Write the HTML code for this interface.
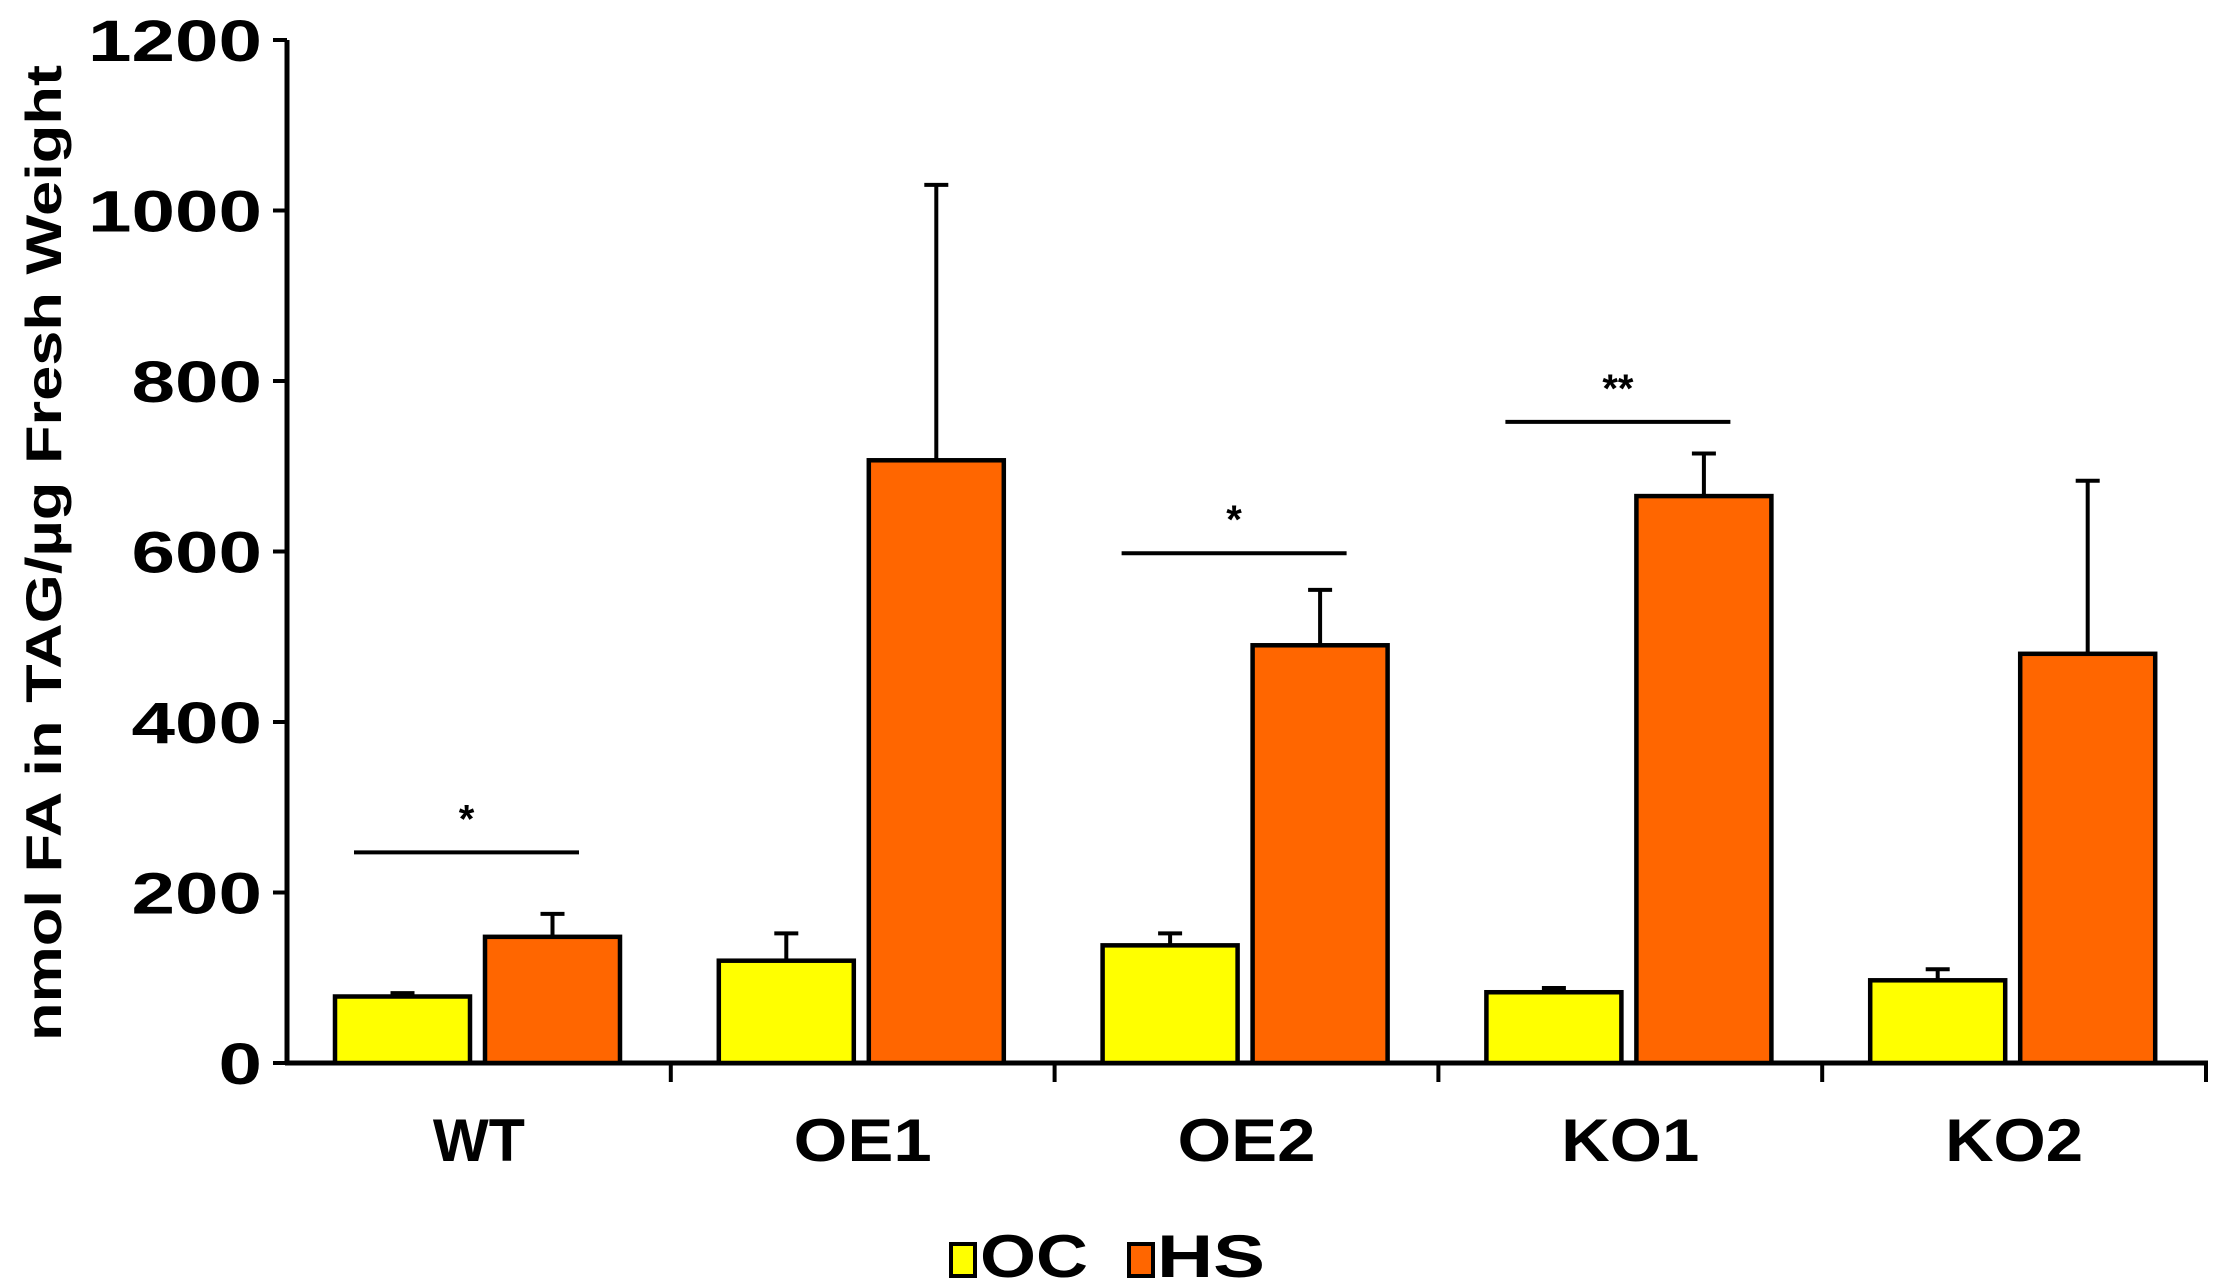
<!DOCTYPE html>
<html><head><meta charset="utf-8"><style>
html,body{margin:0;padding:0;background:#fff;}
svg{display:block;font-family:"Liberation Sans",Arial,sans-serif;font-weight:bold;}
</style></head><body>
<svg id="chart" width="2217" height="1287" viewBox="0 0 2217 1287" xmlns="http://www.w3.org/2000/svg">
<text transform="translate(61,553) rotate(-90)" text-anchor="middle" font-size="50" textLength="976" lengthAdjust="spacingAndGlyphs">nmol FA in TAG/µg Fresh Weight</text>
<g id="axes"></g><g id="bars"></g><g id="sig"></g>
<g>
<rect x="951" y="1244" width="24" height="32" fill="#ffff00" stroke="#000" stroke-width="4"/>
<text x="980" y="1277" font-size="60" textLength="108" lengthAdjust="spacingAndGlyphs">OC</text>
<rect x="1129" y="1244" width="24" height="32" fill="#ff6600" stroke="#000" stroke-width="4"/>
<text x="1157" y="1277" font-size="60" textLength="108" lengthAdjust="spacingAndGlyphs">HS</text>
</g>
</svg>
<script>
const categories = ["WT","OE1","OE2","KO1","KO2"];
const ocValues = [78,120,138,83,97];
const ocErrTop = [82,152,152,88,110];
const hsValues = [148,707,490,665,480];
const hsErrTop = [175,1030,555,715,683];
const yTicks = [0,200,400,600,800,1000,1200];
const sigCats = [0,2,3];
const sigLevels = [247,598,752];
const sigLabels = ["*","*","**"];

const NS="http://www.w3.org/2000/svg";
const X0=287, X1=2206, Y0=1063, Ytop=40, YMAX=1200;
const catW=(X1-X0)/categories.length;
function y(v){return Y0-(v/YMAX)*(Y0-Ytop);}
function catX(i){return X0+i*catW;}
function mk(tag,attrs,parent){const e=document.createElementNS(NS,tag);for(const k in attrs)e.setAttribute(k,attrs[k]);parent.appendChild(e);return e;}
const axes=document.getElementById('axes'),bars=document.getElementById('bars'),sig=document.getElementById('sig');

let l=mk('line',{x1:X0,y1:Ytop,x2:X0,y2:Y0+2,stroke:'#000','stroke-width':5},axes);


l=mk('line',{x1:X0-2,y1:Y0,x2:X1+2,y2:Y0,stroke:'#000','stroke-width':5},axes);



yTicks.forEach(t=>{
  const tk=mk('line',{x1:X0-14,y1:y(t),x2:X0,y2:y(t),stroke:'#000','stroke-width':4},axes);
  
  
  const s=String(t);
  const tx=mk('text',{x:262,y:y(t)+21,'text-anchor':'end','font-size':58,textLength:s.length*43.5,lengthAdjust:'spacingAndGlyphs'},axes);
  tx.textContent=s;
  
  
});

categories.forEach((c,i)=>{
  const bx=catX(i+1);
  const tk=mk('line',{x1:bx,y1:Y0,x2:bx,y2:Y0+19,stroke:'#000','stroke-width':4},axes);
  
  
  const tx=mk('text',{x:catX(i)+catW/2,y:1161,'text-anchor':'middle','font-size':60,textLength:c.length*46,lengthAdjust:'spacingAndGlyphs'},axes);
  tx.textContent=c;
  
  

  const series=[[ocValues[i],ocErrTop[i],'#ffff00',48,'oc'],[hsValues[i],hsErrTop[i],'#ff6600',198,'hs']];
  series.forEach(([v,e,col,off,nm])=>{
    const x=catX(i)+off, w=135, cx=x+w/2;
    const eb=mk('line',{x1:cx,y1:y(v),x2:cx,y2:y(e),stroke:'#000','stroke-width':4},bars);
    
    
    const cp=mk('line',{x1:cx-12,y1:y(e),x2:cx+12,y2:y(e),stroke:'#000','stroke-width':4},bars);
    
    
    const r=mk('rect',{x:x,y:y(v),width:w,height:Y0-y(v),fill:col,stroke:'#000','stroke-width':4.5},bars);
    
    
  });
});

sigCats.forEach((ci,k)=>{
  const x1=catX(ci)+67, x2=catX(ci)+292, yy=y(sigLevels[k]);
  const ln=mk('line',{x1:x1,y1:yy,x2:x2,y2:yy,stroke:'#000','stroke-width':4},sig);
  
  
  const st=mk('text',{x:(x1+x2)/2,y:yy-20,'text-anchor':'middle','font-size':40},sig);
  st.textContent=sigLabels[k];
  
  
});
</script>
</body></html>
